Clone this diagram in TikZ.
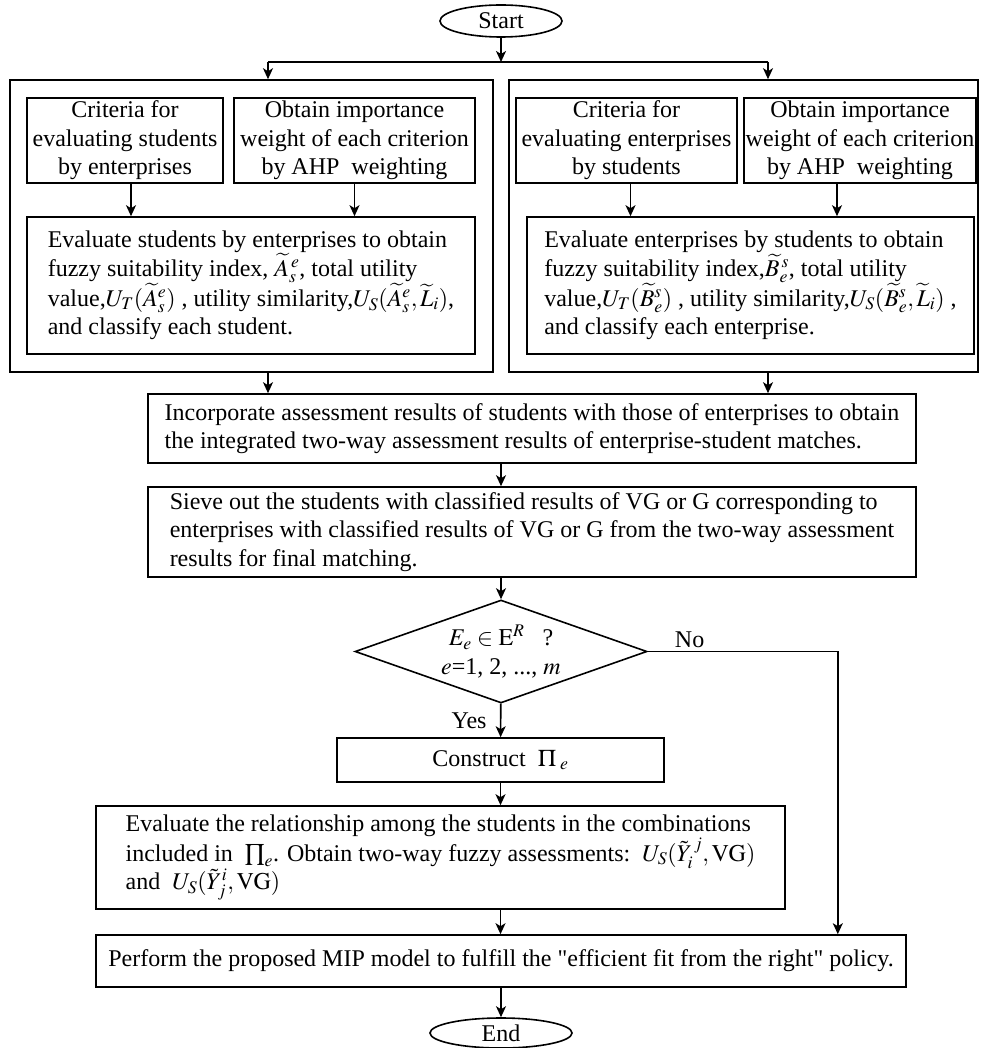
\documentclass[tikz,border=0pt]{standalone}
\usepackage{mathptmx}
\usepackage{fontspec}
\setmainfont{Liberation Serif}
\usetikzlibrary{shapes, arrows.meta, positioning, calc}
\newcommand{\flowFont}{\fontsize{24}{28.5}\selectfont}
\newcommand{\flowLineWidth}{1.6pt}
\tikzstyle{box}=[draw, rectangle, line width=\flowLineWidth, inner sep=0pt, align=left]
\tikzstyle{smallBox}=[box, align=center, minimum height=85pt]
\tikzstyle{terminal}=[draw, ellipse, line width=\flowLineWidth, inner sep=0pt]
\tikzstyle{decision}=[draw, diamond, aspect=3.2, line width=\flowLineWidth, inner sep=0pt, align=center]
\tikzstyle{arrow}=[-{Stealth[length=11pt, width=10pt, inset=3pt]}, line width=\flowLineWidth]
\tikzstyle{line}=[line width=\flowLineWidth]

\begin{document}
\begin{tikzpicture}[x=1pt, y=-1pt, font=\flowFont]
  \useasboundingbox (0,0) rectangle (980,1048);
  \node[terminal, minimum width=122pt, minimum height=32pt] (start) at (501,21) {Start};
  \coordinate (splitL) at (268,62);
  \coordinate (splitR) at (768,62);

  % students evaluated by enterprises
  \node[box, minimum width=483pt, minimum height=292pt] (outerS) at (251.5,226) {};
  \node[smallBox, minimum width=196pt] (critS) at (125,140.5)
    {Criteria for\\evaluating students\\by enterprises};
  \node[smallBox, minimum width=241pt] (wgtS) at (354.5,140.5)
    {Obtain importance\\weight of each criterion\\by AHP\ \ weighting};
  \node[box, minimum width=448pt, minimum height=137pt] (evalS) at (251,285.5)
    {Evaluate students by enterprises to obtain\\
     fuzzy suitability index, $\widetilde{A}_{s}^{\,e}$, total utility\\
     value,$U_T(\widetilde{A}_s^e)$ , utility similarity,$U_S(\widetilde{A}_s^e,\widetilde{L}_i)$,\\
     and classify each student.};

  % enterprises evaluated by students
  \node[box, minimum width=469pt, minimum height=292pt] (outerE) at (743.5,226) {};
  \node[smallBox, minimum width=221pt] (critE) at (626.5,140.5)
    {Criteria for\\evaluating enterprises\\by students};
  \node[smallBox, minimum width=232pt] (wgtE) at (860,140.5)
    {Obtain importance\\weight of each criterion\\by AHP\ \ weighting};
  \node[box, minimum width=447pt, minimum height=137pt] (evalE) at (750.5,285.5)
    {Evaluate enterprises by students to obtain\\
     fuzzy suitability index,$\widetilde{B}_{e}^{\,s}$, total utility\\
     value,$U_T(\widetilde{B}_e^s)$ , utility similarity,$U_S(\widetilde{B}_e^s,\widetilde{L}_i)$ ,\\
     and classify each enterprise.};

  \node[box, minimum width=768pt, minimum height=69pt] (incorp) at (532,428.5)
    {Incorporate assessment results of students with those of enterprises to obtain\\
     the integrated two-way assessment results of enterprise-student matches.};
  \node[box, minimum width=768pt, minimum height=90pt] (sieve) at (532,532)
    {Sieve out the students with classified results of VG or G corresponding to\\
     enterprises with classified results of VG or G from the two-way assessment\\
     results for final matching.};
  \node[decision, minimum width=292pt, minimum height=103pt] (dec) at (501,651.5)
    {$E_e\in\mathrm{E}^{R}$\ \ \ ?\\$e$=1, 2, ..., $m$};
  \node[box, align=center, minimum width=327pt, minimum height=44pt] (construct) at (500.5,760)
    {Construct\ \ $\Pi_{\;e}$};
  \node[box, minimum width=689pt, minimum height=103pt] (evalRel) at (440.5,857.5)
    {Evaluate the relationship among the students in the combinations\\
     included in\ \ $\prod\nolimits_{e}$. Obtain two-way fuzzy assessments:\ \ $U_S(\tilde{Y}_i^{\,j},\mathrm{VG})$\\
     and\ \ $U_S(\tilde{Y}_j^{i},\mathrm{VG})$};
  \node[box, align=center, minimum width=810pt, minimum height=52pt] (perform) at (501,961)
    {Perform the proposed MIP model to fulfill the \textquotedbl efficient fit from the right\textquotedbl{} policy.};
  \node[terminal, minimum width=142pt, minimum height=30pt] (stop) at (501,1033) {End};

  % connectors
  \draw[arrow] (start) -- (start |- splitL);
  \draw[line] (splitL) -- (splitR);
  \draw[arrow] (splitL) -- (splitL |- outerS.north);
  \draw[arrow] (splitR) -- (splitR |- outerE.north);
  \draw[arrow] ([xshift=6pt]critS.south) -- ([xshift=6pt]critS.south |- evalS.north);
  \draw[arrow] (wgtS) -- (wgtS |- evalS.north);
  \draw[arrow] ([xshift=4pt]critE.south) -- ([xshift=4pt]critE.south |- evalE.north);
  \draw[arrow] ([xshift=-23pt]wgtE.south) -- ([xshift=-23pt]wgtE.south |- evalE.north);
  \draw[arrow] (splitL |- outerS.south) -- (splitL |- incorp.north);
  \draw[arrow] (splitR |- outerE.south) -- (splitR |- incorp.north);
  \draw[arrow] (incorp.south -| dec.north) -- (sieve.north -| dec.north);
  \draw[arrow] (sieve.south -| dec.north) -- (dec.north);
  \draw[arrow] (dec) -- node[left, xshift=-10pt] {Yes} (construct);
  \draw[arrow] (construct) -- (construct.south |- evalRel.north);
  \draw[arrow] (construct.south |- evalRel.south) -- (construct.south |- perform.north);
  \draw[arrow] (dec.east) -| node[above, pos=0.11] {No} ([xshift=-69pt]perform.north east);
  \draw[arrow] (perform) -- (stop);
\end{tikzpicture}
\end{document}
